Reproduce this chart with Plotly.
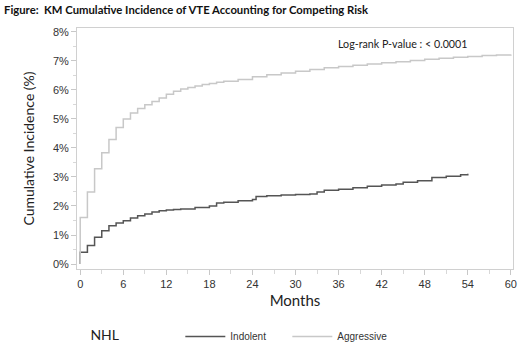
import plotly.graph_objects as go

# Aggressive NHL (light grey)
agg_months = [0, 0, 1, 2, 3, 4, 5, 6, 7, 8, 9, 10, 11, 12, 13, 14, 15, 16, 17, 18, 19, 20, 22, 24,
              26, 28, 30, 32, 34, 36, 38, 40, 42, 44, 46, 48, 50, 52, 54, 56, 58, 60]
agg_inc = [0, 1.6, 2.48, 3.28, 3.83, 4.29, 4.7, 5.0, 5.2, 5.36, 5.49, 5.6, 5.72, 5.85, 5.95, 6.03,
           6.08, 6.13, 6.18, 6.22, 6.26, 6.30, 6.36, 6.45, 6.52, 6.58, 6.64, 6.70, 6.76, 6.80,
           6.85, 6.89, 6.93, 6.97, 7.01, 7.05, 7.09, 7.12, 7.15, 7.18, 7.20, 7.22]

# Indolent NHL (dark grey)
ind_months = [0, 0, 1, 2, 3, 4, 5, 6, 7, 8, 9, 10, 11, 12, 13, 14, 16, 18, 19, 20, 22, 24, 24.5,
              26, 28, 30, 32, 33, 34, 36, 38, 40, 42, 44, 45, 47, 49, 51, 53, 54]
ind_inc = [0, 0.41, 0.64, 0.92, 1.15, 1.32, 1.41, 1.49, 1.59, 1.66, 1.72, 1.79, 1.84, 1.86, 1.88,
           1.90, 1.95, 2.0, 2.1, 2.13, 2.18, 2.22, 2.33, 2.35, 2.38, 2.40, 2.41, 2.48, 2.54, 2.58,
           2.63, 2.68, 2.72, 2.76, 2.82, 2.87, 2.98, 3.02, 3.08, 3.11]

x_ticks = [0, 6, 12, 18, 24, 30, 36, 42, 48, 54, 60]
y_ticks = [0, 1, 2, 3, 4, 5, 6, 7, 8]
y_labels = [f"{v}%" for v in y_ticks]

fig = go.Figure()
fig.add_trace(go.Scatter(x=ind_months, y=ind_inc, mode="lines", name="Indolent",
                         line=dict(color="#555555", width=1.5, shape="hv")))
fig.add_trace(go.Scatter(x=agg_months, y=agg_inc, mode="lines", name="Aggressive",
                         line=dict(color="#c8c8c8", width=1.5, shape="hv")))

axis_common = dict(showline=True, linecolor="#d0d0d0", linewidth=1, mirror=True,
                   showgrid=False, zeroline=False, ticks="outside", tickcolor="#c8c8c8",
                   ticklen=5, automargin=False,
                   tickfont=dict(family="Arial", size=11, color="#333333"))

fig.update_xaxes(range=[-0.45, 60.3], tickvals=x_ticks,
                 minor=dict(dtick=3, tick0=0, ticks="outside", ticklen=4, tickcolor="#d8d8d8"),
                 title=dict(text="Months", font=dict(family="Lato", size=15, color="#222222"),
                            standoff=6),
                 **axis_common)
fig.update_yaxes(range=[-0.17, 8.13], tickvals=y_ticks, ticktext=y_labels,
                 minor=dict(dtick=0.5, ticks="outside", ticklen=3, tickcolor="#d8d8d8"),
                 title=dict(text="Cumulative Incidence (%)",
                            font=dict(family="Lato", size=14, color="#222222"), standoff=14),
                 **axis_common)

fig.add_annotation(text="<b>Figure:  KM Cumulative Incidence of VTE Accounting for Competing Risk</b>",
                   xref="paper", yref="paper", x=-0.173, y=1.076, xanchor="left", yanchor="middle",
                   showarrow=False, font=dict(family="Lato", size=11.3, color="#111111"))
fig.add_annotation(text="Log-rank P-value : < 0.0001", xref="paper", yref="paper",
                   x=0.9, y=0.935, xanchor="right", yanchor="middle", showarrow=False,
                   font=dict(family="Lato", size=10.7, color="#222222"))

fig.update_layout(
    width=520, height=347,
    margin=dict(l=77, r=7, t=28, b=78, autoexpand=False),
    paper_bgcolor="white", plot_bgcolor="white",
    showlegend=True,
    legend=dict(orientation="h", xref="container", x=0.17, xanchor="left",
                yref="container", y=0.03, yanchor="middle",
                title=dict(text="NHL               ", font=dict(family="Lato", size=14, color="#222222")),
                font=dict(family="Arial", size=10, color="#333333"),
                itemwidth=40, entrywidth=52, entrywidthmode="pixels",
                tracegroupgap=0, bgcolor="rgba(0,0,0,0)"),
)

fig.write_html("out.html", config={"displayModeBar": False},
               post_script="document.body.style.margin='0';document.body.style.padding='0';")
